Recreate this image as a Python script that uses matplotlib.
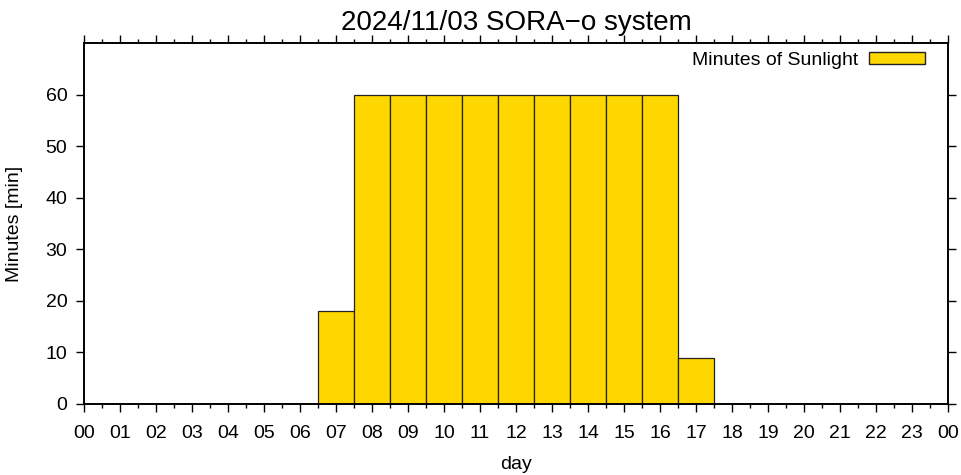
import numpy as np
import matplotlib.pyplot as plt
from matplotlib.patches import Patch

plt.rcParams['font.family'] = ['Liberation Sans', 'DejaVu Sans']

hours = np.arange(24)
minutes = [0, 0, 0, 0, 0, 0, 0, 18, 60, 60, 60, 60, 60, 60, 60, 60, 60, 9,
           0, 0, 0, 0, 0, 0]
tick_labels = ['%02d' % h for h in range(24)] + ['00']
title = '2024/11/03 SORA\u2212o system'

fig = plt.figure(figsize=(9.61, 4.75), dpi=100)
ax = fig.add_axes([84 / 961, 71 / 475, 864 / 961, 361 / 475])

ax.bar(hours, minutes, width=1.0, color='#FFD700', edgecolor='#222222',
       linewidth=0.9, zorder=2)

ax.set_xlim(0, 24)
ax.set_ylim(0, 70)
ax.set_xticks(np.arange(25))
ax.set_xticklabels(tick_labels)
ax.set_xticks(np.arange(0.5, 24, 1), minor=True)
ax.set_yticks(np.arange(0, 61, 10))

ax.tick_params(axis='both', which='major', direction='out', length=6,
               width=1, labelsize=14, top=True, right=True)
ax.tick_params(axis='x', which='major', pad=9)
ax.tick_params(axis='y', which='major', pad=6)
ax.tick_params(axis='x', which='minor', direction='out', length=3,
               width=1, top=True)
for s in ax.spines.values():
    s.set_linewidth(1.4)
    s.set_zorder(3)

ax.set_xlabel('day', fontsize=14, labelpad=10)
ax.set_ylabel('Minutes [min]', fontsize=14, labelpad=16)
ax.set_title(title, fontsize=20, pad=9)

leg = ax.legend([Patch(facecolor='#FFD700', edgecolor='#222222')],
                ['Minutes of Sunlight'], loc='upper right', frameon=False,
                markerfirst=False, fontsize=14, handlelength=2.9,
                handleheight=0.52, handletextpad=0.55, borderaxespad=0,
                bbox_to_anchor=(1 - 15 / 864, 1 - 1 / 361))

fig.savefig('out.png', dpi=100)
